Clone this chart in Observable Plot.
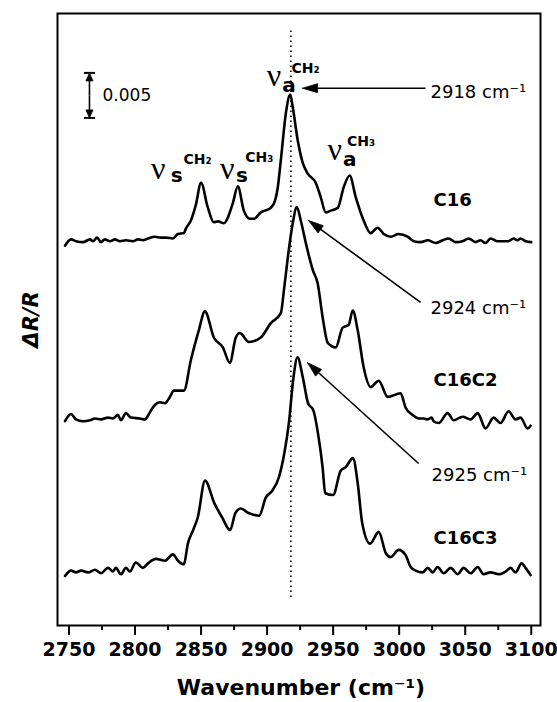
<!DOCTYPE html>
<html>
<head>
<meta charset="utf-8">
<script src="https://cdn.jsdelivr.net/npm/d3@7"></script>
<script src="https://cdn.jsdelivr.net/npm/@observablehq/plot@0.6"></script>
<style>
  body { margin: 0; background: #fff; }
</style>
</head>
<body>
<div id="chart"></div>
<script>
// ---- Data (ΔR/R in units of 10^-3, relative to each spectrum's baseline) ----
const seriesNames = ["C16", "C16C2", "C16C3"];
const seriesOffsets = [42.8, 22.8, 5.8];

const spectrumC16 = [
  [2747,-0.6],[2751.5,0.1],[2755.3,-0.1],[2760.6,-0.2],[2765.9,0.1],[2768.2,-0.1],[2771.2,0.3],
  [2774.2,-0.2],[2777.2,0.1],[2781,-0.1],[2784.8,0.1],[2788.6,-0.1],[2793.1,0],[2798.4,-0.1],
  [2802.2,0.1],[2806,0],[2809.8,0.2],[2815,0.4],[2819.6,0.3],[2823.4,0.3],[2828.7,0.2],
  [2832.4,0.7],[2837,0.8],[2838.5,1.3],[2842.3,2.2],[2846,3.9],[2850,6.4],[2855,3.7],
  [2859.7,2.0],[2863,2.1],[2867.2,1.9],[2874,4.1],[2877.8,6.0],[2882.4,3.3],[2887,2.4],
  [2890,2.4],[2895.2,3.1],[2902.8,3.6],[2906,4.4],[2908.1,5.9],[2910.4,8.9],[2914.2,14.1],
  [2917.5,16.2],[2919.4,14.8],[2923.2,11.1],[2927,8.6],[2930.8,7.4],[2936.8,6.4],[2940.6,4.8],
  [2944.4,3.1],[2948.2,3.3],[2953.5,3.6],[2958,5.9],[2962.5,7.2],[2967.1,4.8],[2973.1,2.2],
  [2978.4,0.8],[2983.7,1.4],[2988.3,0.7],[2993.6,0.4],[2999.6,0.7],[3006.4,0.4],[3011,-0.1],
  [3016.3,-0.2],[3021.6,0],[3027.6,-0.3],[3032.9,0],[3037.4,0.2],[3042.7,-0.2],[3048,-0.1],
  [3052.6,0.2],[3057.9,-0.2],[3061.6,0],[3065.4,-0.3],[3069.2,0.2],[3074.5,-0.1],[3079,-0.1],
  [3082.8,-0.1],[3086.6,0.2],[3089.6,0],[3091.9,0.2],[3095.7,-0.1],[3100,-0.2]
];

const spectrumC16C2 = [
  [2747,-0.1],[2751.5,0.7],[2755.3,0.1],[2760.6,-0.1],[2765.9,0],[2769.7,0.2],[2774.2,0.1],
  [2779.5,0.3],[2783.3,0.2],[2787.1,0.6],[2789.3,0],[2793.1,0.8],[2796.9,0.3],[2803.7,0.2],
  [2807.5,0.1],[2811.3,0.9],[2815,1.7],[2818.8,2.0],[2822.6,1.9],[2826.4,2.6],[2829.4,3.3],
  [2837,3.3],[2842.3,6.7],[2848.3,10.0],[2852.9,12.1],[2859.7,9.2],[2866.5,8.1],[2871.8,6.4],
  [2876.3,9.2],[2879.3,9.7],[2886.2,8.7],[2895.2,9.2],[2902.8,10.8],[2910.4,11.9],[2912.7,14.4],
  [2915.7,18.1],[2919.4,21.9],[2922.5,23.7],[2925.5,22.2],[2929.3,19.7],[2934.6,16.7],
  [2938.3,15.2],[2942.1,11.4],[2945.9,8.6],[2952,8.1],[2957.2,10.3],[2961.8,10.6],[2964.8,12.2],
  [2968.6,10.0],[2973.1,5.9],[2978.4,3.7],[2984.5,4.4],[2991.3,2.6],[3001.1,3.0],[3004.9,1.4],
  [3010.2,0.6],[3014.7,0.2],[3018.5,0.2],[3021.6,0.1],[3024.6,0.3],[3026.1,-0.1],[3029.9,-0.3],
  [3036.7,0.8],[3041.2,0],[3048,0.4],[3054.1,0.1],[3059.4,0.8],[3065.4,-0.9],[3071.5,0.3],
  [3076.8,-0.3],[3082.8,1.0],[3088.1,0.1],[3091.9,0.3],[3097.2,-0.9],[3099.5,-0.6]
];

const spectrumC16C3 = [
  [2747,-0.3],[2751.5,0.3],[2755.3,0.1],[2759.1,0.3],[2764.4,0.1],[2769.7,0.4],[2774.2,0],
  [2779.5,0.6],[2783.3,0.2],[2785.5,0.6],[2789.3,-0.1],[2793.1,0.6],[2796.1,0.2],[2800.6,1.2],
  [2805.9,0.6],[2809.8,1.1],[2815.8,1.6],[2822.6,1.4],[2828.7,2.1],[2832.5,1.4],[2837,1.0],
  [2840,3.3],[2844,4.8],[2847.5,6.2],[2853,10.3],[2860,7.8],[2866,6.2],[2872,4.8],[2876,6.7],
  [2880,7.2],[2886,6.7],[2894,6.4],[2899,8.4],[2904,9.2],[2909,10.7],[2913,13.3],[2916.5,16.7],
  [2920,21.8],[2923,24.0],[2927,21.8],[2931,18.9],[2935,18.1],[2939,15.1],[2942,11.8],[2944,8.9],
  [2950,8.7],[2955.7,11.4],[2959.5,11.8],[2965,12.8],[2968.6,10.0],[2972,5.6],[2978,3.3],
  [2984.5,4.6],[2990,2.2],[2993.6,1.8],[2999.6,2.6],[3004.9,2.0],[3008.7,0.7],[3012.5,0.3],
  [3017.8,0.1],[3021.6,0.6],[3025.4,0.1],[3029.1,0.7],[3033.7,0],[3039,0.6],[3044.3,-0.1],
  [3048.8,0.6],[3054.1,0],[3059.4,0.7],[3063.9,-0.1],[3069.2,0.1],[3075.3,-0.1],[3080.6,0.2],
  [3084.4,0.6],[3088.1,0.1],[3092.7,1.1],[3095.7,0.6],[3099.5,-0.2]
];

const xTicks = [2750, 2800, 2850, 2900, 2950, 3000, 3050, 3100];
const xMinorTicks = [2775, 2825, 2875, 2925, 2975, 3025, 3075];

// Peak annotations (wavenumber of the CH2 antisymmetric stretch)
const peakLabels = ["2918 cm⁻¹", "2924 cm⁻¹", "2925 cm⁻¹"];
const peakLabelX = [3023.7, 3023.7, 3024.5];
const peakLabelY = [59.2, 35.3, 16.7];
const arrowFrom = [[3020, 59.7], [3016.2, 35.9], [3014.7, 18.0]];
const arrowTo = [[2926.8, 59.7], [2931.4, 45.0], [2930.6, 29.2]];

// Band assignment labels: ν with mode subscript and group superscript
const bandLabels = [
  {mode: "a", group: "CH₂", nx: 2905.2, ny: 61.1, mx: 2916.6, my: 60.0, gx: 2929.1, gy: 61.9},
  {mode: "s", group: "CH₂", nx: 2817.6, ny: 50.8, mx: 2831.6, my: 50.0, gx: 2847.3, gy: 51.8},
  {mode: "s", group: "CH₃", nx: 2869.8, ny: 50.8, mx: 2881.0, my: 50.0, gx: 2894.1, gy: 52.0},
  {mode: "a", group: "CH₃", nx: 2951.2, ny: 52.9, mx: 2962.6, my: 51.8, gx: 2971.2, gy: 53.8}
];

const seriesLabelX = 3026;
const seriesLabelY = [47.2, 27.2, 9.7];

const peakLine = 2918;
const peakLineRange = [3.1, 66.4];

const scaleBarValue = 5; // 0.005 in units of 10^-3
const scaleBarX = 2765.5;
const scaleBarBottom = 56.4;
const scaleBarLabel = "0.005";

// ---- Layout ----
const W = 557, H = 702, mT = 13, mR = 17, mB = 77, mL = 57;
const xDomain = [2741.3, 3107.0], yDomain = [0, 68];
const kx = (W - mL - mR) / (xDomain[1] - xDomain[0]); // px per wavenumber
const ky = (H - mT - mB) / (yDomain[1] - yDomain[0]); // px per unit

// ---- Build tables ----
const spectra = [spectrumC16, spectrumC16C2, spectrumC16C3];
const rows = [];
spectra.forEach((s, i) => s.forEach(([w, v]) => rows.push({series: seriesNames[i], w, v: v + seriesOffsets[i]})));

// filled arrowheads: triangle in data space built from screen-space length/width
function arrowPieces(id, tail, tip, L, Wd, shafts, heads) {
  let ux = (tip[0] - tail[0]) * kx, uy = -(tip[1] - tail[1]) * ky;
  const n = Math.hypot(ux, uy); ux /= n; uy /= n;
  const px = -uy, py = ux;
  const toData = (sx, sy) => [tip[0] + sx / kx, tip[1] - sy / ky];
  const base = toData(-ux * L, -uy * L);
  const c1 = toData(-ux * L + px * Wd / 2, -uy * L + py * Wd / 2);
  const c2 = toData(-ux * L - px * Wd / 2, -uy * L - py * Wd / 2);
  shafts.push({x1: tail[0], y1: tail[1], x2: base[0], y2: base[1]});
  [tip, c1, c2, tip].forEach(p => heads.push({id, x: p[0], y: p[1]}));
}
const shafts = [], heads = [];
arrowFrom.forEach((f, i) => arrowPieces("p" + i, f, arrowTo[i], 15, 9, shafts, heads));
const sbTop = scaleBarBottom + scaleBarValue;
const sbMid = scaleBarBottom + scaleBarValue / 2;
arrowPieces("sb1", [scaleBarX, sbMid], [scaleBarX, sbTop], 8, 7, shafts, heads);
arrowPieces("sb2", [scaleBarX, sbMid], [scaleBarX, scaleBarBottom], 8, 7, shafts, heads);
const sbCaps = [sbTop, scaleBarBottom];

const peakTexts = peakLabels.map((t, i) => ({t, x: peakLabelX[i], y: peakLabelY[i]}));
const seriesTexts = seriesNames.map((t, i) => ({t, x: seriesLabelX, y: seriesLabelY[i]}));

const chart = Plot.plot({
  width: W,
  height: H,
  marginTop: mT,
  marginRight: mR,
  marginBottom: mB,
  marginLeft: mL,
  style: {fontFamily: "DejaVu Sans", fontSize: "19px", fontWeight: "bold", background: "white", color: "black"},
  x: {domain: xDomain, ticks: xTicks, tickSize: 0, tickPadding: 17, tickFormat: "d", label: null},
  y: {domain: yDomain, axis: null},
  marks: [
    Plot.frame({stroke: "black", strokeWidth: 2}),
    Plot.ruleX(xTicks, {y1: 0, y2: 0, insetBottom: -10, stroke: "black", strokeWidth: 2}),
    Plot.ruleX(xMinorTicks, {y1: 0, y2: 0, insetBottom: -5, stroke: "black", strokeWidth: 2}),
    Plot.ruleX([peakLine], {y1: peakLineRange[0], y2: peakLineRange[1], stroke: "black", strokeWidth: 1.6, strokeDasharray: "1.6,3.4"}),
    Plot.line(rows, {x: "w", y: "v", z: "series", stroke: "black", strokeWidth: 2.6, curve: "monotone-x", strokeLinejoin: "round"}),
    // arrows (peak pointers and scale bar)
    Plot.link(shafts, {x1: "x1", y1: "y1", x2: "x2", y2: "y2", stroke: "black", strokeWidth: 1.6}),
    Plot.line(heads, {x: "x", y: "y", z: "id", fill: "black", stroke: "black", strokeWidth: 0.8, curve: "linear"}),
    Plot.link(sbCaps, {x1: scaleBarX - 4.2, x2: scaleBarX + 4.2, y1: d => d, y2: d => d, stroke: "black", strokeWidth: 2}),
    Plot.text([scaleBarLabel], {x: scaleBarX + 9.9, y: sbMid, text: d => d, textAnchor: "start", fontSize: 17, fontWeight: "normal"}),
    // peak labels
    Plot.text(peakTexts, {x: "x", y: "y", text: "t", textAnchor: "start", fontSize: 18, fontWeight: "normal"}),
    // series labels
    Plot.text(seriesTexts, {x: "x", y: "y", text: "t", textAnchor: "start", fontSize: 18, fontWeight: "bold"}),
    // band assignment labels
    Plot.text(bandLabels, {x: "nx", y: "ny", text: () => "ν", fontFamily: "Liberation Serif", fontSize: 32, fontWeight: "normal"}),
    Plot.text(bandLabels, {x: "mx", y: "my", text: "mode", fontSize: 20, fontWeight: "bold"}),
    Plot.text(bandLabels, {x: "gx", y: "gy", text: "group", fontSize: 14, fontWeight: "bold"}),
    // axis titles
    Plot.text(["Wavenumber (cm⁻¹)"], {frameAnchor: "bottom", dy: 62, dx: 2, text: d => d, textAnchor: "middle", lineAnchor: "middle", fontSize: 22, fontWeight: "bold"}),
    Plot.text(["ΔR/R"], {frameAnchor: "left", dx: -26, rotate: -90, text: d => d, textAnchor: "middle", lineAnchor: "middle", fontSize: 21, fontWeight: "bold", fontStyle: "italic"})
  ]
});
document.getElementById("chart").appendChild(chart);
</script>
</body>
</html>
